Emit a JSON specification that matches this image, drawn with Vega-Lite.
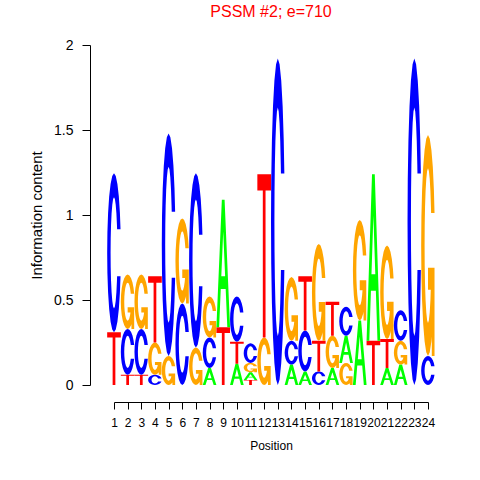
{
  "$schema": "https://vega.github.io/schema/vega-lite/v6.json",
  "width": 314,
  "height": 340,
  "autosize": {"type": "none"},
  "padding": {"left": 114, "top": 45, "right": 52, "bottom": 95},
  "background": "white",
  "title": {"text": "PSSM #2; e=710", "color": "#FF0000", "fontSize": 16, "fontWeight": "normal", "font": "Liberation Sans", "anchor": "middle", "frame": "group", "baseline": "alphabetic", "offset": 5},
  "config": {"view": {"stroke": null}},
  "datasets": {
    "logo": [
      {"pos": 1, "base": "T", "h": 0.31}, {"pos": 1, "base": "C", "h": 0.935},
      {"pos": 2, "base": "T", "h": 0.06}, {"pos": 2, "base": "C", "h": 0.27}, {"pos": 2, "base": "G", "h": 0.32},
      {"pos": 3, "base": "T", "h": 0.06}, {"pos": 3, "base": "C", "h": 0.27}, {"pos": 3, "base": "G", "h": 0.32},
      {"pos": 4, "base": "C", "h": 0.06}, {"pos": 4, "base": "G", "h": 0.19}, {"pos": 4, "base": "T", "h": 0.39},
      {"pos": 5, "base": "G", "h": 0.17}, {"pos": 5, "base": "C", "h": 1.31},
      {"pos": 6, "base": "C", "h": 0.48}, {"pos": 6, "base": "G", "h": 0.50},
      {"pos": 7, "base": "G", "h": 0.22}, {"pos": 7, "base": "C", "h": 1.025},
      {"pos": 8, "base": "A", "h": 0.10}, {"pos": 8, "base": "C", "h": 0.18}, {"pos": 8, "base": "G", "h": 0.24},
      {"pos": 9, "base": "T", "h": 0.34}, {"pos": 9, "base": "A", "h": 0.75},
      {"pos": 10, "base": "A", "h": 0.125}, {"pos": 10, "base": "T", "h": 0.13}, {"pos": 10, "base": "C", "h": 0.265},
      {"pos": 11, "base": "T", "h": 0.03}, {"pos": 11, "base": "A", "h": 0.045}, {"pos": 11, "base": "G", "h": 0.055}, {"pos": 11, "base": "C", "h": 0.115},
      {"pos": 12, "base": "G", "h": 0.28}, {"pos": 12, "base": "T", "h": 0.96},
      {"pos": 13, "base": "C", "h": 1.92},
      {"pos": 14, "base": "A", "h": 0.12}, {"pos": 14, "base": "C", "h": 0.14}, {"pos": 14, "base": "G", "h": 0.375},
      {"pos": 15, "base": "A", "h": 0.08}, {"pos": 15, "base": "C", "h": 0.24}, {"pos": 15, "base": "T", "h": 0.32},
      {"pos": 16, "base": "C", "h": 0.08}, {"pos": 16, "base": "T", "h": 0.18}, {"pos": 16, "base": "G", "h": 0.57},
      {"pos": 17, "base": "A", "h": 0.10}, {"pos": 17, "base": "G", "h": 0.19}, {"pos": 17, "base": "T", "h": 0.20},
      {"pos": 18, "base": "G", "h": 0.13}, {"pos": 18, "base": "A", "h": 0.16}, {"pos": 18, "base": "C", "h": 0.17},
      {"pos": 19, "base": "A", "h": 0.38}, {"pos": 19, "base": "G", "h": 0.59},
      {"pos": 20, "base": "T", "h": 0.26}, {"pos": 20, "base": "A", "h": 0.98},
      {"pos": 21, "base": "A", "h": 0.10}, {"pos": 21, "base": "T", "h": 0.17}, {"pos": 21, "base": "G", "h": 0.55},
      {"pos": 22, "base": "A", "h": 0.12}, {"pos": 22, "base": "G", "h": 0.14}, {"pos": 22, "base": "C", "h": 0.18},
      {"pos": 23, "base": "C", "h": 1.92},
      {"pos": 24, "base": "C", "h": 0.17}, {"pos": 24, "base": "G", "h": 1.30}
    ],
    "glyphs": [
      {"base": "T",
       "u": [0, 1, 1, 0.6, 0.6, 0.4, 0.4, 0],
       "v": [1, 1, 0.9, 0.9, 0, 0, 0.9, 0.9],
       "k": [0, 1, 2, 3, 4, 5, 6, 7]},
      {"base": "A",
       "u": [0, 0.4, 0.6, 1, 0.8, 0.68, 0.64, 0.5, 0.36, 0.64, 0.68, 0.32, 0.2],
       "v": [0, 1, 1, 0, 0, 0.3, 0.4, 0.75, 0.4, 0.4, 0.3, 0.3, 0],
       "k": [0, 1, 2, 3, 4, 5, 6, 7, 8, 9, 10, 11, 12]},
      {"base": "C",
       "u": [0.978, 0.933, 0.854, 0.75, 0.629, 0.5, 0.371, 0.25, 0.146, 0.067, 0.017, 0, 0.017, 0.067, 0.146, 0.25, 0.371, 0.5, 0.629, 0.75, 0.854, 0.933, 0.978,
             0.727, 0.7165, 0.677, 0.625, 0.565, 0.5, 0.435, 0.375, 0.323, 0.2835, 0.259, 0.25, 0.259, 0.2835, 0.323, 0.375, 0.435, 0.5, 0.565, 0.625, 0.677, 0.7165, 0.727],
       "v": [0.648, 0.75, 0.854, 0.933, 0.983, 1, 0.983, 0.933, 0.854, 0.75, 0.629, 0.5, 0.371, 0.25, 0.146, 0.067, 0.017, 0, 0.017, 0.067, 0.146, 0.25, 0.352,
             0.352, 0.325, 0.253, 0.197, 0.162, 0.15, 0.162, 0.197, 0.253, 0.325, 0.409, 0.5, 0.591, 0.675, 0.747, 0.803, 0.838, 0.85, 0.838, 0.803, 0.747, 0.675, 0.648],
       "k": [0,1,2,3,4,5,6,7,8,9,10,11,12,13,14,15,16,17,18,19,20,21,22,23,24,25,26,27,28,29,30,31,32,33,34,35,36,37,38,39,40,41,42,43,44,45]},
      {"base": "G",
       "u": [0.978, 0.933, 0.854, 0.75, 0.629, 0.5, 0.371, 0.25, 0.146, 0.067, 0.017, 0, 0.017, 0.067, 0.146, 0.25, 0.371, 0.5, 0.629, 0.75, 0.854, 0.933, 0.978,
             0.727, 0.7165, 0.677, 0.625, 0.565, 0.5, 0.435, 0.375, 0.323, 0.2835, 0.259, 0.25, 0.259, 0.2835, 0.323, 0.375, 0.435, 0.5, 0.565, 0.625, 0.677, 0.7165, 0.727,
             0.978, 0.5, 0.5, 0.778, 0.778, 0.978, 0.978, 0.727],
       "v": [0.648, 0.75, 0.854, 0.933, 0.983, 1, 0.983, 0.933, 0.854, 0.75, 0.629, 0.5, 0.371, 0.25, 0.146, 0.067, 0.017, 0, 0.017, 0.067, 0.146, 0.25, 0.352,
             0.352, 0.325, 0.253, 0.197, 0.162, 0.15, 0.162, 0.197, 0.253, 0.325, 0.409, 0.5, 0.591, 0.675, 0.747, 0.803, 0.838, 0.85, 0.838, 0.803, 0.747, 0.675, 0.648,
             0.4, 0.4, 0.3, 0.3, 0, 0, 0.4, 0.648],
       "k": [0,1,2,3,4,5,6,7,8,9,10,11,12,13,14,15,16,17,18,19,20,21,22,23,24,25,26,27,28,29,30,31,32,33,34,35,36,37,38,39,40,41,42,43,44,45,46,47,48,49,50,51,52,53]}
    ]
  },
  "data": {"name": "logo"},
  "transform": [
    {"stack": "h", "groupby": ["pos"], "sort": [{"field": "h", "order": "ascending"}], "as": ["y0", "y1"]},
    {"lookup": "base", "from": {"data": {"name": "glyphs"}, "key": "base", "fields": ["u", "v", "k"]}},
    {"flatten": ["u", "v", "k"]},
    {"calculate": "datum.pos - 0.5 + datum.u", "as": "gx"},
    {"calculate": "datum.y0 + datum.v * (datum.y1 - datum.y0)", "as": "gy"},
    {"calculate": "datum.pos + '-' + datum.base", "as": "gid"}
  ],
  "mark": {"type": "line", "strokeWidth": 0, "clip": false, "interpolate": "linear"},
  "encoding": {
    "x": {
      "field": "gx", "type": "quantitative",
      "scale": {"domain": [1, 24], "nice": false, "zero": false},
      "axis": {
        "values": [1,2,3,4,5,6,7,8,9,10,11,12,13,14,15,16,17,18,19,20,21,22,23,24],
        "format": "d", "offset": 17, "grid": false,
        "domainColor": "#000000", "tickColor": "#000000", "tickSize": 7,
        "labelFont": "Liberation Sans", "labelFontSize": 12, "labelColor": "#000000",
        "labelPadding": 8, "labelOverlap": false, "labelFlush": false,
        "title": "Position", "titleFont": "Liberation Sans", "titleFontSize": 12, "titleFontWeight": "normal", "titleColor": "#000000", "titlePadding": 12
      }
    },
    "y": {
      "field": "gy", "type": "quantitative",
      "scale": {"domain": [0, 2], "nice": false, "zero": true},
      "axis": {
        "values": [0, 0.5, 1, 1.5, 2],
        "format": "~g", "offset": 24, "grid": false,
        "domainColor": "#000000", "tickColor": "#000000", "tickSize": 8,
        "labelFont": "Liberation Sans", "labelFontSize": 14, "labelColor": "#000000",
        "labelPadding": 9, "labelOverlap": false, "labelFlush": false,
        "title": "Information content", "titleFont": "Liberation Sans", "titleFontSize": 15, "titleFontWeight": "normal", "titleColor": "#000000", "titlePadding": 9
      }
    },
    "detail": {"field": "gid"},
    "order": {"field": "k", "type": "quantitative"},
    "fill": {
      "field": "base", "type": "nominal",
      "scale": {"domain": ["A", "C", "G", "T"], "range": ["#00FF00", "#0000FF", "#FFA500", "#FF0000"]},
      "legend": null
    }
  }
}
